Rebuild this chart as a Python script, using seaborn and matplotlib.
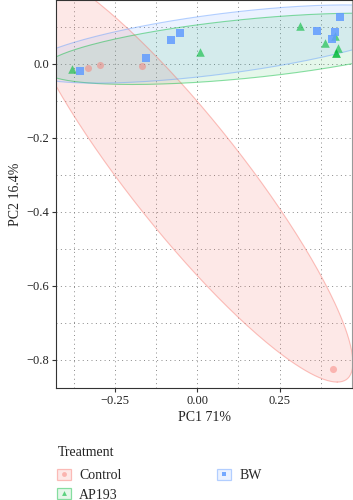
import numpy as np
import pandas as pd
import matplotlib
matplotlib.use("Agg")
import matplotlib.pyplot as plt
import seaborn as sns
from matplotlib.patches import Patch
from matplotlib.lines import Line2D
from matplotlib.legend_handler import HandlerTuple

# ---- data ----
control_x = [-0.331, -0.295, -0.167, 0.412]
control_y = [-0.011, -0.003, -0.005, -0.824]
ap193_x = [-0.382, 0.007, 0.312, 0.419, 0.388, 0.426, 0.422, 0.422]
ap193_y = [-0.014, 0.033, 0.104, 0.076, 0.056, 0.042, 0.029, 0.029]
bw_x = [-0.356, -0.155, -0.080, -0.052, 0.363, 0.434, 0.419, 0.409]
bw_y = [-0.020, 0.016, 0.065, 0.083, 0.089, 0.126, 0.086, 0.068]
groups = ["Control", "AP193", "BW"]
colors = ["#F8766D", "#00BA38", "#619CFF"]
markers = ["o", "^", "s"]
point_alpha = [0.45, 0.6, 0.85]
point_size = [26, 38, 28]

# confidence ellipses as seen in the picture: centre, conjugate semi-diameters
ell_cx = [-0.037, 0.148, 0.071]
ell_cy = [-0.300, 0.041, 0.054]
ell_p = [(0.462, -0.560), (0.618, 0.0538), (0.596, 0.0668)]
ell_q = [(0.215, 0.0), (0.0, 0.080), (0.0, 0.082)]
fill_alpha = [0.16, 0.10, 0.12]

df = pd.DataFrame({
    "PC1": control_x + ap193_x + bw_x,
    "PC2": control_y + ap193_y + bw_y,
    "Treatment": ["Control"] * len(control_x) + ["AP193"] * len(ap193_x) + ["BW"] * len(bw_x),
})

sns.set_style("ticks")
plt.rcParams["font.family"] = ["Liberation Serif", "DejaVu Serif"]

fig = plt.figure(figsize=(3.53, 5.0), dpi=100)
ax = fig.add_axes([56 / 353, 1 - 388 / 500, 296 / 353, 388 / 500])

# ellipses
t = np.linspace(0, 2 * np.pi, 300)
for i, g in enumerate(groups):
    px, py = ell_p[i]
    qx, qy = ell_q[i]
    ex = ell_cx[i] + px * np.cos(t) + qx * np.sin(t)
    ey = ell_cy[i] + py * np.cos(t) + qy * np.sin(t)
    ax.fill(ex, ey, color=colors[i], alpha=fill_alpha[i], lw=0, zorder=1)
    ax.plot(ex, ey, color=colors[i], alpha=0.45, lw=0.8, zorder=1.5)

for i, g in enumerate(groups):
    sns.scatterplot(data=df[df["Treatment"] == g], x="PC1", y="PC2",
                    color=colors[i], marker=markers[i], s=point_size[i], linewidth=0,
                    alpha=point_alpha[i], ax=ax, legend=False, zorder=3)

ax.set_xlim(-0.4295, 0.470)
ax.set_ylim(-0.876, 0.173)
ax.set_xticks([-0.25, 0.0, 0.25])
ax.set_xticklabels(["\u22120.25", "0.00", "0.25"])
ax.set_yticks([0.0, -0.2, -0.4, -0.6, -0.8])
ax.set_yticklabels(["0.0", "\u22120.2", "\u22120.4", "\u22120.6", "\u22120.8"])
ax.set_xticks([-0.375, -0.125, 0.125, 0.375], minor=True)
ax.set_yticks([0.1, -0.1, -0.3, -0.5, -0.7], minor=True)
ax.tick_params(which="major", length=3, width=0.8, color="#333333", labelsize=9,
               labelcolor="#222222", pad=2)
ax.tick_params(which="minor", length=0)
ax.grid(True, which="both", color="#888888", lw=0.7, linestyle=(0, (1, 3.5)), zorder=0)
ax.set_axisbelow(True)
for side in ["left", "bottom", "top", "right"]:
    ax.spines[side].set_color("#333333")
    ax.spines[side].set_linewidth(0.8)
ax.spines["right"].set_color("#999999")

ax.set_xlabel("PC1 71%", fontsize=10, color="#222222", labelpad=3)
ax.set_ylabel("PC2 16.4%", fontsize=10, color="#222222", labelpad=3)

handles = []
for i, g in enumerate(groups):
    box = Patch(facecolor=matplotlib.colors.to_rgba(colors[i], fill_alpha[i]),
                edgecolor=matplotlib.colors.to_rgba(colors[i], 0.45), lw=0.9)
    mk = Line2D([], [], marker=markers[i], color=colors[i], alpha=point_alpha[i],
                linestyle="none", markersize=3.5, markeredgewidth=0)
    handles.append((box, mk))

fig.text(58 / 353, 1 - 453 / 500, "Treatment", fontsize=10, color="#222222",
         ha="left", va="center")
leg = fig.legend(handles, groups, loc="upper left", bbox_to_anchor=(57 / 353, 1 - 469 / 500),
                 ncol=2, frameon=False, fontsize=10,
                 handler_map={tuple: HandlerTuple(ndivide=1)},
                 handlelength=1.0, handleheight=0.8, handletextpad=0.6,
                 columnspacing=6.9, labelspacing=0.45, borderaxespad=0, borderpad=0)

fig.savefig("out.png", dpi=100)
